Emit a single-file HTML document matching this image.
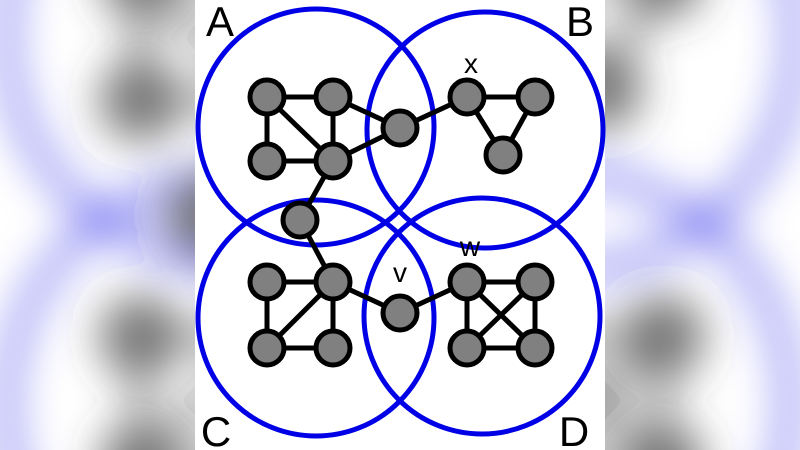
<!DOCTYPE html>
<html><head><style>html,body{margin:0;padding:0;background:#fff;overflow:hidden;width:800px;height:450px}svg{display:block;overflow:hidden}#w{position:relative;width:800px;height:450px;overflow:hidden}</style></head>
<body><div id="w">
<svg width="800" height="450" viewBox="0 0 800 450" xmlns="http://www.w3.org/2000/svg" overflow="hidden">
<defs>
<clipPath id="cp"><rect width="800" height="450"/></clipPath>
<filter id="bl" x="0" y="0" width="800" height="450" filterUnits="userSpaceOnUse"><feGaussianBlur stdDeviation="22"/></filter>
<g id="dia">
<g fill="none" stroke="#0000e6" stroke-width="5">
<circle cx="316" cy="127" r="118"/>
<circle cx="485" cy="130" r="118"/>
<circle cx="316" cy="318" r="118"/>
<circle cx="482" cy="316" r="118"/>
</g>
<g stroke="#000" stroke-width="5">
<line x1="267" y1="97" x2="333" y2="97"/><line x1="267" y1="97" x2="267" y2="161"/>
<line x1="267" y1="97" x2="333" y2="161"/><line x1="333" y1="97" x2="333" y2="161"/>
<line x1="267" y1="161" x2="333" y2="161"/><line x1="333" y1="97" x2="400" y2="128"/>
<line x1="333" y1="161" x2="400" y2="128"/><line x1="400" y1="128" x2="467" y2="97"/>
<line x1="467" y1="97" x2="535" y2="97"/><line x1="467" y1="97" x2="503" y2="155"/>
<line x1="535" y1="97" x2="503" y2="155"/><line x1="333" y1="161" x2="300" y2="220"/>
<line x1="300" y1="220" x2="333" y2="282"/><line x1="267" y1="282" x2="333" y2="282"/>
<line x1="267" y1="282" x2="267" y2="348"/><line x1="333" y1="282" x2="267" y2="348"/>
<line x1="333" y1="282" x2="333" y2="348"/><line x1="267" y1="348" x2="333" y2="348"/>
<line x1="333" y1="282" x2="400" y2="313"/><line x1="400" y1="313" x2="467" y2="282"/>
<line x1="467" y1="282" x2="535" y2="282"/><line x1="467" y1="282" x2="467" y2="348"/>
<line x1="467" y1="282" x2="535" y2="348"/><line x1="535" y1="282" x2="467" y2="348"/>
<line x1="535" y1="282" x2="535" y2="348"/><line x1="467" y1="348" x2="535" y2="348"/>
</g>
<g fill="#808080" stroke="#000" stroke-width="5">
<circle cx="267" cy="97" r="17"/><circle cx="333" cy="97" r="17"/>
<circle cx="267" cy="161" r="17"/><circle cx="333" cy="161" r="17"/>
<circle cx="400" cy="128" r="17"/><circle cx="467" cy="97" r="17"/>
<circle cx="535" cy="97" r="17"/><circle cx="503" cy="155" r="17"/>
<circle cx="300" cy="220" r="17"/><circle cx="267" cy="282" r="17"/>
<circle cx="333" cy="282" r="17"/><circle cx="267" cy="348" r="17"/>
<circle cx="333" cy="348" r="17"/><circle cx="400" cy="313" r="17"/>
<circle cx="467" cy="282" r="17"/><circle cx="535" cy="282" r="17"/>
<circle cx="467" cy="348" r="17"/><circle cx="535" cy="348" r="17"/>
</g>
</g>
</defs>
<g clip-path="url(#cp)">
<rect width="800" height="450" fill="#fff"/>
<g filter="url(#bl)"><use href="#dia" transform="translate(400 225) scale(1.95) translate(-400 -225)"/></g>
<rect x="195" y="0" width="410" height="450" fill="#fff"/>
<use href="#dia"/>
<g font-family="Liberation Sans, sans-serif" fill="#000">
<text x="220" y="36" font-size="42" text-anchor="middle">A</text>
<text x="580" y="36" font-size="42" text-anchor="middle">B</text>
<text x="216" y="446" font-size="42" text-anchor="middle">C</text>
<text x="574" y="446" font-size="42" text-anchor="middle">D</text>
<text x="471" y="73" font-size="28" text-anchor="middle">x</text>
<text x="470" y="256" font-size="28" text-anchor="middle">w</text>
<text x="400" y="282" font-size="28" text-anchor="middle">v</text>
</g>
</g>
</svg>
</div></body></html>
